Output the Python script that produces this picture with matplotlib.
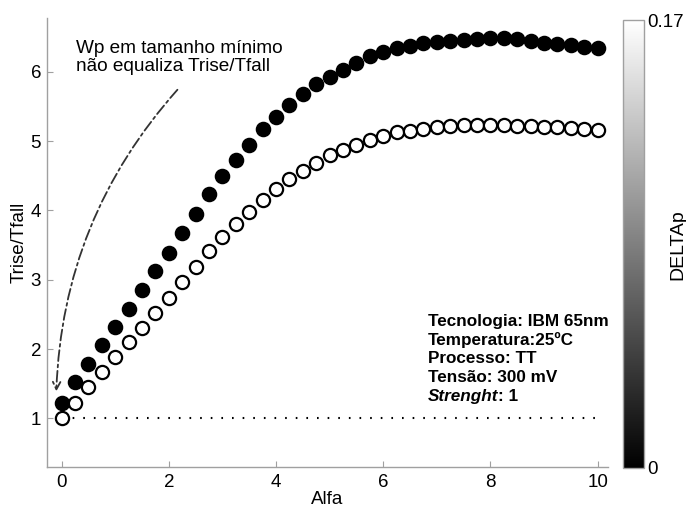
"""
Trise/Tfall vs Alfa, two series of markers plus a DELTAp colour bar.
Output: out.png
"""
import matplotlib
matplotlib.use("Agg")
import matplotlib.pyplot as plt
import numpy as np
from matplotlib.cm import ScalarMappable
from matplotlib.colors import Normalize

plt.rcParams["font.family"] = ["Liberation Sans", "DejaVu Sans"]
plt.rcParams["font.size"] = 13.5

# ---- data ----
alfa = np.arange(41) * 0.25

ratio_filled = [1.23, 1.52, 1.79, 2.06, 2.32, 2.58, 2.85, 3.12, 3.39, 3.68,
                3.95, 4.23, 4.49, 4.73, 4.95, 5.17, 5.35, 5.52, 5.68, 5.82,
                5.93, 6.03, 6.13, 6.22, 6.29, 6.34, 6.37, 6.41, 6.43, 6.45,
                6.46, 6.47, 6.49, 6.48, 6.47, 6.45, 6.42, 6.40, 6.38, 6.36,
                6.34]
ratio_open = [1.00, 1.23, 1.45, 1.67, 1.88, 2.10, 2.30, 2.52, 2.74, 2.97,
              3.19, 3.42, 3.61, 3.81, 3.98, 4.15, 4.31, 4.45, 4.57, 4.69,
              4.80, 4.87, 4.94, 5.02, 5.08, 5.13, 5.15, 5.17, 5.20, 5.22,
              5.23, 5.23, 5.23, 5.23, 5.22, 5.22, 5.21, 5.20, 5.19, 5.17,
              5.16]
ref_x = [0, 10]
ref_y = [1, 1]

xticks = [0, 2, 4, 6, 8, 10]
yticks = [1, 2, 3, 4, 5, 6]
delta_min, delta_max = 0, 0.17

info_lines = ["Tecnologia: IBM 65nm", "Temperatura:25ºC", "Processo: TT",
              "Tensão: 300 mV"]

SPINE = "#a0a0a0"

fig = plt.figure(figsize=(6.86, 5.09), dpi=100)
ax = fig.add_axes([0.068, 0.0825, 0.818, 0.8815])
cax = fig.add_axes([0.9086, 0.0806, 0.0302, 0.880])

ax.plot(ref_x, ref_y, color="black", lw=1.5, ls=(0, (0.8, 4.3)), zorder=1)
ax.plot(alfa, ratio_filled, "o", ms=10, mfc="black", mec="black", mew=1.2, zorder=3)
ax.plot(alfa, ratio_open, "o", ms=9.5, mfc="white", mec="black", mew=1.6, zorder=3)

ax.set_xlim(-0.28, 10.19)
ax.set_ylim(0.3, 6.77)
ax.set_xticks(xticks)
ax.set_yticks(yticks)
ax.tick_params(direction="in", length=4, width=0.8, color=SPINE, pad=4)
ax.tick_params(axis="x", pad=5)
for side in ("top", "right"):
    ax.spines[side].set_visible(False)
for side in ("left", "bottom"):
    ax.spines[side].set_color(SPINE)
    ax.spines[side].set_linewidth(1.0)
ax.set_xlabel("Alfa", labelpad=0)
ax.set_ylabel("Trise/Tfall", labelpad=2)

# annotation
ax.text(0.26, 6.46, "Wp em tamanho mínimo\nnão equaliza Trise/Tfall",
        ha="left", va="top", fontsize=13.7, linespacing=1.12)
ax.annotate("", xy=(-0.1, 1.39), xytext=(2.16, 5.74),
            arrowprops=dict(arrowstyle="->", color="#333333", lw=1.3,
                            linestyle=(0, (6, 2, 1.5, 2)),
                            connectionstyle="arc3,rad=0.18",
                            shrinkA=0, shrinkB=0))

# info block
y0 = 2.40
step = 0.27
for i, line in enumerate(info_lines):
    ax.text(6.83, y0 - i * step, line, ha="left", va="center",
            fontsize=12.3, fontweight="bold")
t = ax.text(6.83, y0 - 4 * step, "Strenght", ha="left", va="center",
            fontsize=12.3, fontweight="bold", fontstyle="italic")
ax.annotate(": 1", xy=(1, 0), xycoords=t, ha="left", va="bottom",
            fontsize=12.3, fontweight="bold")

# colour bar
sm = ScalarMappable(norm=Normalize(delta_min, delta_max), cmap="gray")
cb = fig.colorbar(sm, cax=cax, ticks=[delta_min, delta_max])
cb.ax.set_yticklabels(["0", "0.17"])
cb.ax.tick_params(length=0, pad=2, labelsize=13.5)
cb.outline.set_edgecolor(SPINE)
cb.outline.set_linewidth(1.0)
fig.text(0.988, 0.52, "DELTAp", rotation=90, ha="center", va="center", fontsize=14)

fig.savefig("out.png", dpi=100, facecolor="white")
